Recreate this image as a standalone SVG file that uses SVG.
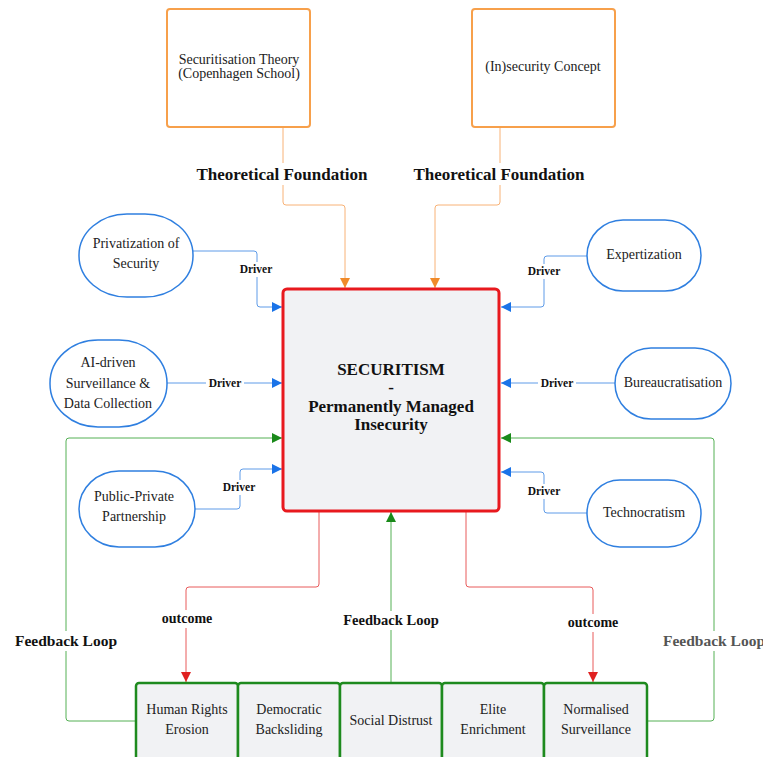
<svg xmlns="http://www.w3.org/2000/svg" width="763" height="757" viewBox="0 0 763 757">
<defs>
<style>
.t{font-family:"Liberation Serif","Times New Roman",serif;font-size:14px;fill:#222;text-anchor:middle}
.lb{font-family:"Liberation Serif","Times New Roman",serif;font-weight:bold;fill:#111;text-anchor:middle}
.orange{fill:#fff;stroke:#f7a04b;stroke-width:2}
.blue{fill:#fff;stroke:#2f7fe0;stroke-width:1.5}
.green{fill:#f1f2f4;stroke:#1e8a1e;stroke-width:2.5}
.co{fill:none;stroke:#f8b276;stroke-width:1}
.cb{fill:none;stroke:#5e9be8;stroke-width:1}
.cr{fill:none;stroke:#e85a5a;stroke-width:1}
.cg{fill:none;stroke:#55b055;stroke-width:1}
.bg{fill:#fff}
</style>
<marker id="ao" viewBox="0 0 10 10" refX="10" refY="5" markerWidth="10" markerHeight="10" markerUnits="userSpaceOnUse" orient="auto"><path d="M0,0L10,5L0,10z" fill="#f08a2a"/></marker>
<marker id="ab" viewBox="0 0 10 10" refX="10" refY="5" markerWidth="10" markerHeight="10" markerUnits="userSpaceOnUse" orient="auto"><path d="M0,0L10,5L0,10z" fill="#1a73e8"/></marker>
<marker id="ar" viewBox="0 0 10 10" refX="10" refY="5" markerWidth="10" markerHeight="10" markerUnits="userSpaceOnUse" orient="auto"><path d="M0,0L10,5L0,10z" fill="#e02020"/></marker>
<marker id="ag" viewBox="0 0 10 10" refX="10" refY="5" markerWidth="10" markerHeight="10" markerUnits="userSpaceOnUse" orient="auto"><path d="M0,0L10,5L0,10z" fill="#1a8a1a"/></marker>
</defs>
<rect width="763" height="757" fill="#fff"/>

<g id="connectors">
<path class="co" d="M283,127V202q0,3 3,3H342q3,0 3,3V288" marker-end="url(#ao)"/>
<path class="co" d="M500,127V202q0,3 -3,3H438q-3,0 -3,3V288" marker-end="url(#ao)"/>
<path class="cb" d="M193,251H254q3,0 3,3V304q0,3 3,3H282" marker-end="url(#ab)"/>
<path class="cb" d="M587,256H547q-3,0 -3,3V304q0,3 -3,3H501" marker-end="url(#ab)"/>
<path class="cb" d="M167,383H282" marker-end="url(#ab)"/>
<path class="cb" d="M615,383H501" marker-end="url(#ab)"/>
<path class="cb" d="M195,509H237q3,0 3,-3V472q0,-3 3,-3H282" marker-end="url(#ab)"/>
<path class="cb" d="M587,513H547q-3,0 -3,-3V475q0,-3 -3,-3H501" marker-end="url(#ab)"/>
<path class="cg" d="M136,721H69q-3,0 -3,-3V441q0,-3 3,-3H282" marker-end="url(#ag)"/>
<path class="cg" d="M647,721H711q3,0 3,-3V441q0,-3 -3,-3H501" marker-end="url(#ag)"/>
<path class="cg" d="M391,683V512" marker-end="url(#ag)"/>
<path class="cr" d="M319,512V584q0,3 -3,3H189q-3,0 -3,3V682" marker-end="url(#ar)"/>
<path class="cr" d="M466,512V584q0,3 3,3H590q3,0 3,3V682" marker-end="url(#ar)"/>

<rect class="bg" x="196" y="163" width="172" height="22"/>
<text class="lb" x="282" y="180" font-size="17">Theoretical Foundation</text>
<rect class="bg" x="413" y="163" width="172" height="22"/>
<text class="lb" x="499" y="180" font-size="17">Theoretical Foundation</text>
<rect class="bg" x="238" y="262" width="38" height="15"/>
<text class="lb" x="256" y="273" font-size="11.5">Driver</text>
<rect class="bg" x="525" y="264" width="38" height="15"/>
<text class="lb" x="544" y="275" font-size="11.5">Driver</text>
<rect class="bg" x="206" y="376" width="38" height="15"/>
<text class="lb" x="225" y="387" font-size="11.5">Driver</text>
<rect class="bg" x="538" y="376" width="38" height="15"/>
<text class="lb" x="557" y="387" font-size="11.5">Driver</text>
<rect class="bg" x="220" y="480" width="38" height="15"/>
<text class="lb" x="239" y="491" font-size="11.5">Driver</text>
<rect class="bg" x="525" y="484" width="38" height="15"/>
<text class="lb" x="544" y="495" font-size="11.5">Driver</text>
<rect class="bg" x="158" y="610" width="58" height="18"/>
<text class="lb" x="187" y="623" font-size="14">outcome</text>
<rect class="bg" x="564" y="614" width="58" height="18"/>
<text class="lb" x="593" y="627" font-size="14">outcome</text>
<rect class="bg" x="342" y="611" width="98" height="19"/>
<text class="lb" x="391" y="625" font-size="14.5">Feedback Loop</text>
<rect class="bg" x="13" y="631" width="106" height="20"/>
<text class="lb" x="66" y="646" font-size="15.5">Feedback Loop</text>
<rect class="bg" x="660" y="631" width="106" height="20"/>
<text class="lb" x="714" y="646" font-size="15.5" style="fill:#555">Feedback Loop</text>
</g>

<g id="securitisation-theory">
<rect class="orange" x="167" y="9" width="143" height="118" rx="3"/>
<text class="t" x="239" y="64">Securitisation Theory</text>
<text class="t" x="239" y="78">(Copenhagen School)</text>
</g>
<g id="insecurity-concept">
<rect class="orange" x="472" y="9" width="143" height="118" rx="3"/>
<text class="t" x="543" y="71">(In)security Concept</text>
</g>

<g id="securitism">
<rect x="283" y="289" width="216" height="222" rx="4" fill="#f1f2f4" stroke="#e8191e" stroke-width="3"/>
<text class="lb" x="391" y="375" font-size="17">SECURITISM</text>
<text class="lb" x="391" y="393" font-size="17">-</text>
<text class="lb" x="391" y="412" font-size="17">Permanently Managed</text>
<text class="lb" x="391" y="430" font-size="17">Insecurity</text>
</g>

<g id="privatization">
<rect class="blue" x="79" y="214" width="114" height="83" rx="48" ry="41"/>
<text class="t" x="136" y="248">Privatization of</text>
<text class="t" x="136" y="268">Security</text>
</g>
<g id="expertization">
<rect class="blue" x="587" y="220" width="114" height="71" rx="36"/>
<text class="t" x="644" y="259">Expertization</text>
</g>
<g id="ai-surveillance">
<rect class="blue" x="50" y="340" width="117" height="87" rx="48" ry="43"/>
<text class="t" x="108" y="367">AI-driven</text>
<text class="t" x="108" y="388">Surveillance &amp;</text>
<text class="t" x="108" y="408">Data Collection</text>
</g>
<g id="bureaucratisation">
<rect class="blue" x="615" y="348" width="116" height="71" rx="36"/>
<text class="t" x="673" y="387">Bureaucratisation</text>
</g>
<g id="public-private">
<rect class="blue" x="79" y="471" width="116" height="76" rx="40" ry="38"/>
<text class="t" x="134" y="501">Public-Private</text>
<text class="t" x="134" y="521">Partnership</text>
</g>
<g id="technocratism">
<rect class="blue" x="587" y="480" width="114" height="67" rx="33"/>
<text class="t" x="644" y="517">Technocratism</text>
</g>

<g id="human-rights">
<rect class="green" x="136" y="683" width="102" height="90" rx="3"/>
<text class="t" x="187" y="714">Human Rights</text>
<text class="t" x="187" y="734">Erosion</text>
</g>
<g id="democratic-backsliding">
<rect class="green" x="238" y="683" width="102" height="90" rx="3"/>
<text class="t" x="289" y="714">Democratic</text>
<text class="t" x="289" y="734">Backsliding</text>
</g>
<g id="social-distrust">
<rect class="green" x="340" y="683" width="102" height="90" rx="3"/>
<text class="t" x="391" y="725">Social Distrust</text>
</g>
<g id="elite-enrichment">
<rect class="green" x="442" y="683" width="102" height="90" rx="3"/>
<text class="t" x="493" y="714">Elite</text>
<text class="t" x="493" y="734">Enrichment</text>
</g>
<g id="normalised-surveillance">
<rect class="green" x="544" y="683" width="103" height="90" rx="3"/>
<text class="t" x="596" y="714">Normalised</text>
<text class="t" x="596" y="734">Surveillance</text>
</g>
</svg>
